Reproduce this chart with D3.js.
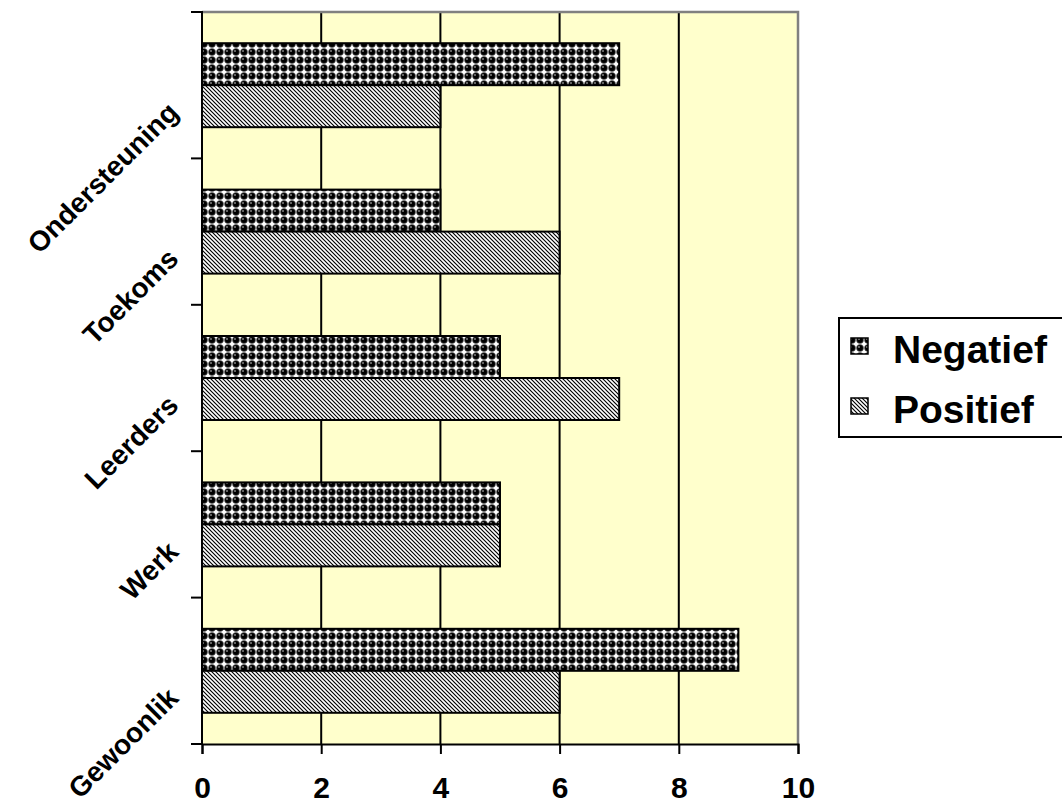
<!DOCTYPE html>
<html>
<head>
<meta charset="utf-8">
<script src="https://cdn.jsdelivr.net/npm/d3@7"></script>
<style>
html,body{margin:0;padding:0;background:#fff;}
svg{display:block;font-family:Arial,"Liberation Sans",sans-serif;font-weight:bold;}
</style>
</head>
<body>
<svg id="chart" width="1062" height="806"></svg>
<script>
const categories = ["Ondersteuning", "Toekoms", "Leerders", "Werk", "Gewoonlik"];
const seriesNames = ["Negatief", "Positief"];
const negatief = [7, 4, 5, 5, 9];
const positief = [4, 6, 7, 5, 6];
const xTicks = [0, 2, 4, 6, 8, 10];

(function () {
const FONT = "Arial, 'Liberation Sans', sans-serif";
const svg = d3.select("#chart");
const defs = svg.append("defs");

// sphere-like pattern
const p1 = defs.append("pattern").attr("id", "patNeg").attr("patternUnits", "userSpaceOnUse")
  .attr("width", 8).attr("height", 8);
p1.append("rect").attr("width", 8).attr("height", 8).attr("fill", "#fff");
p1.append("circle").attr("cx", 4).attr("cy", 4).attr("r", 3.5).attr("fill", "#000")
  .attr("stroke", "#666").attr("stroke-width", 0.6);
p1.append("circle").attr("cx", 3.0).attr("cy", 3.0).attr("r", 0.8).attr("fill", "#ddd");

// diagonal stripe pattern
const p2 = defs.append("pattern").attr("id", "patPos").attr("patternUnits", "userSpaceOnUse")
  .attr("width", 4).attr("height", 4);
p2.append("rect").attr("width", 4).attr("height", 4).attr("fill", "#fff");
p2.append("path").attr("d", "M-1,-1 L5,5 M-1,3 L1,5 M3,-1 L5,1").attr("stroke", "#000").attr("stroke-width", 1.15);

const fills = {Negatief: "url(#patNeg)", Positief: "url(#patPos)"};

const pLeft = 202, pRight = 798, pTop = 12, pBottom = 744;
const x = d3.scaleLinear().domain([0, 10]).range([pLeft, pRight]);
const y = d3.scaleBand().domain(categories).range([pTop, pBottom]).padding(0);
const ySub = d3.scaleBand().domain(seriesNames).range([0, y.bandwidth()]).paddingInner(0).paddingOuter(0.743);

// plot background
svg.append("rect").attr("x", pLeft).attr("y", pTop).attr("width", pRight - pLeft).attr("height", pBottom - pTop)
  .attr("fill", "#FFFFCC");

// gridlines
svg.append("g").selectAll("line").data(xTicks.filter(d => d > 0 && d < 10)).join("line")
  .attr("x1", d => x(d)).attr("x2", d => x(d)).attr("y1", pTop).attr("y2", pBottom)
  .attr("stroke", "#000").attr("stroke-width", 2);

// border top/right gray
svg.append("path").attr("d", `M${pLeft},${pTop} H${pRight} V${pBottom}`).attr("fill", "none")
  .attr("stroke", "#808080").attr("stroke-width", 2.5);

// bars
const data = [];
categories.forEach((c, i) => {
  data.push({cat: c, s: "Negatief", v: negatief[i]});
  data.push({cat: c, s: "Positief", v: positief[i]});
});
svg.append("g").selectAll("rect").data(data).join("rect")
  .attr("x", x(0)).attr("y", d => y(d.cat) + ySub(d.s))
  .attr("width", d => x(d.v) - x(0)).attr("height", ySub.bandwidth())
  .attr("fill", d => fills[d.s]).attr("stroke", "#000").attr("stroke-width", 2);

// x axis
const xAxis = d3.axisBottom(x).tickValues(xTicks).tickSize(10).tickPadding(23).tickFormat(d3.format("d"));
const gx = svg.append("g").attr("transform", `translate(0,${pBottom})`).call(xAxis);
gx.attr("font-size", null).attr("font-family", null);
gx.select(".domain").attr("stroke", "#000").attr("stroke-width", 2);
gx.selectAll(".tick line").attr("stroke", "#000").attr("stroke-width", 2);
gx.selectAll(".tick text").style("font-size", "30px").style("font-weight", "bold").attr("fill", "#000")
  .style("font-family", FONT);

// y axis line and ticks at category boundaries
const boundaries = categories.map(c => y(c)).concat([pBottom]);
svg.append("line").attr("x1", pLeft).attr("x2", pLeft).attr("y1", pTop - 1).attr("y2", pBottom + 1)
  .attr("stroke", "#000").attr("stroke-width", 2);
svg.append("g").selectAll("line").data(boundaries).join("line")
  .attr("x1", pLeft - 11).attr("x2", pLeft).attr("y1", d => d).attr("y2", d => d)
  .attr("stroke", "#000").attr("stroke-width", 2);

// category labels rotated
svg.append("g").selectAll("text").data(categories).join("text")
  .attr("transform", d => `translate(180,${y(d) + y.bandwidth() / 2 + 29}) rotate(-45)`)
  .attr("text-anchor", "end").style("font-size", "28px").style("font-weight", "bold")
  .style("font-family", FONT)
  .text(d => d);

// legend
const lg = svg.append("g");
lg.append("rect").attr("x", 839).attr("y", 318).attr("width", 240).attr("height", 119)
  .attr("fill", "#fff").attr("stroke", "#000").attr("stroke-width", 2);
seriesNames.forEach((s, i) => {
  const cy = 346 + i * 60;
  lg.append("rect").attr("x", 851).attr("y", cy - 8).attr("width", 17).attr("height", 16)
    .attr("fill", fills[s]).attr("stroke", "#000").attr("stroke-width", 1.5);
  lg.append("text").attr("x", 893).attr("y", cy + 17).style("font-size", "39px").style("font-weight", "bold")
    .style("font-family", FONT).text(s);
});
})();
</script>
</body>
</html>
